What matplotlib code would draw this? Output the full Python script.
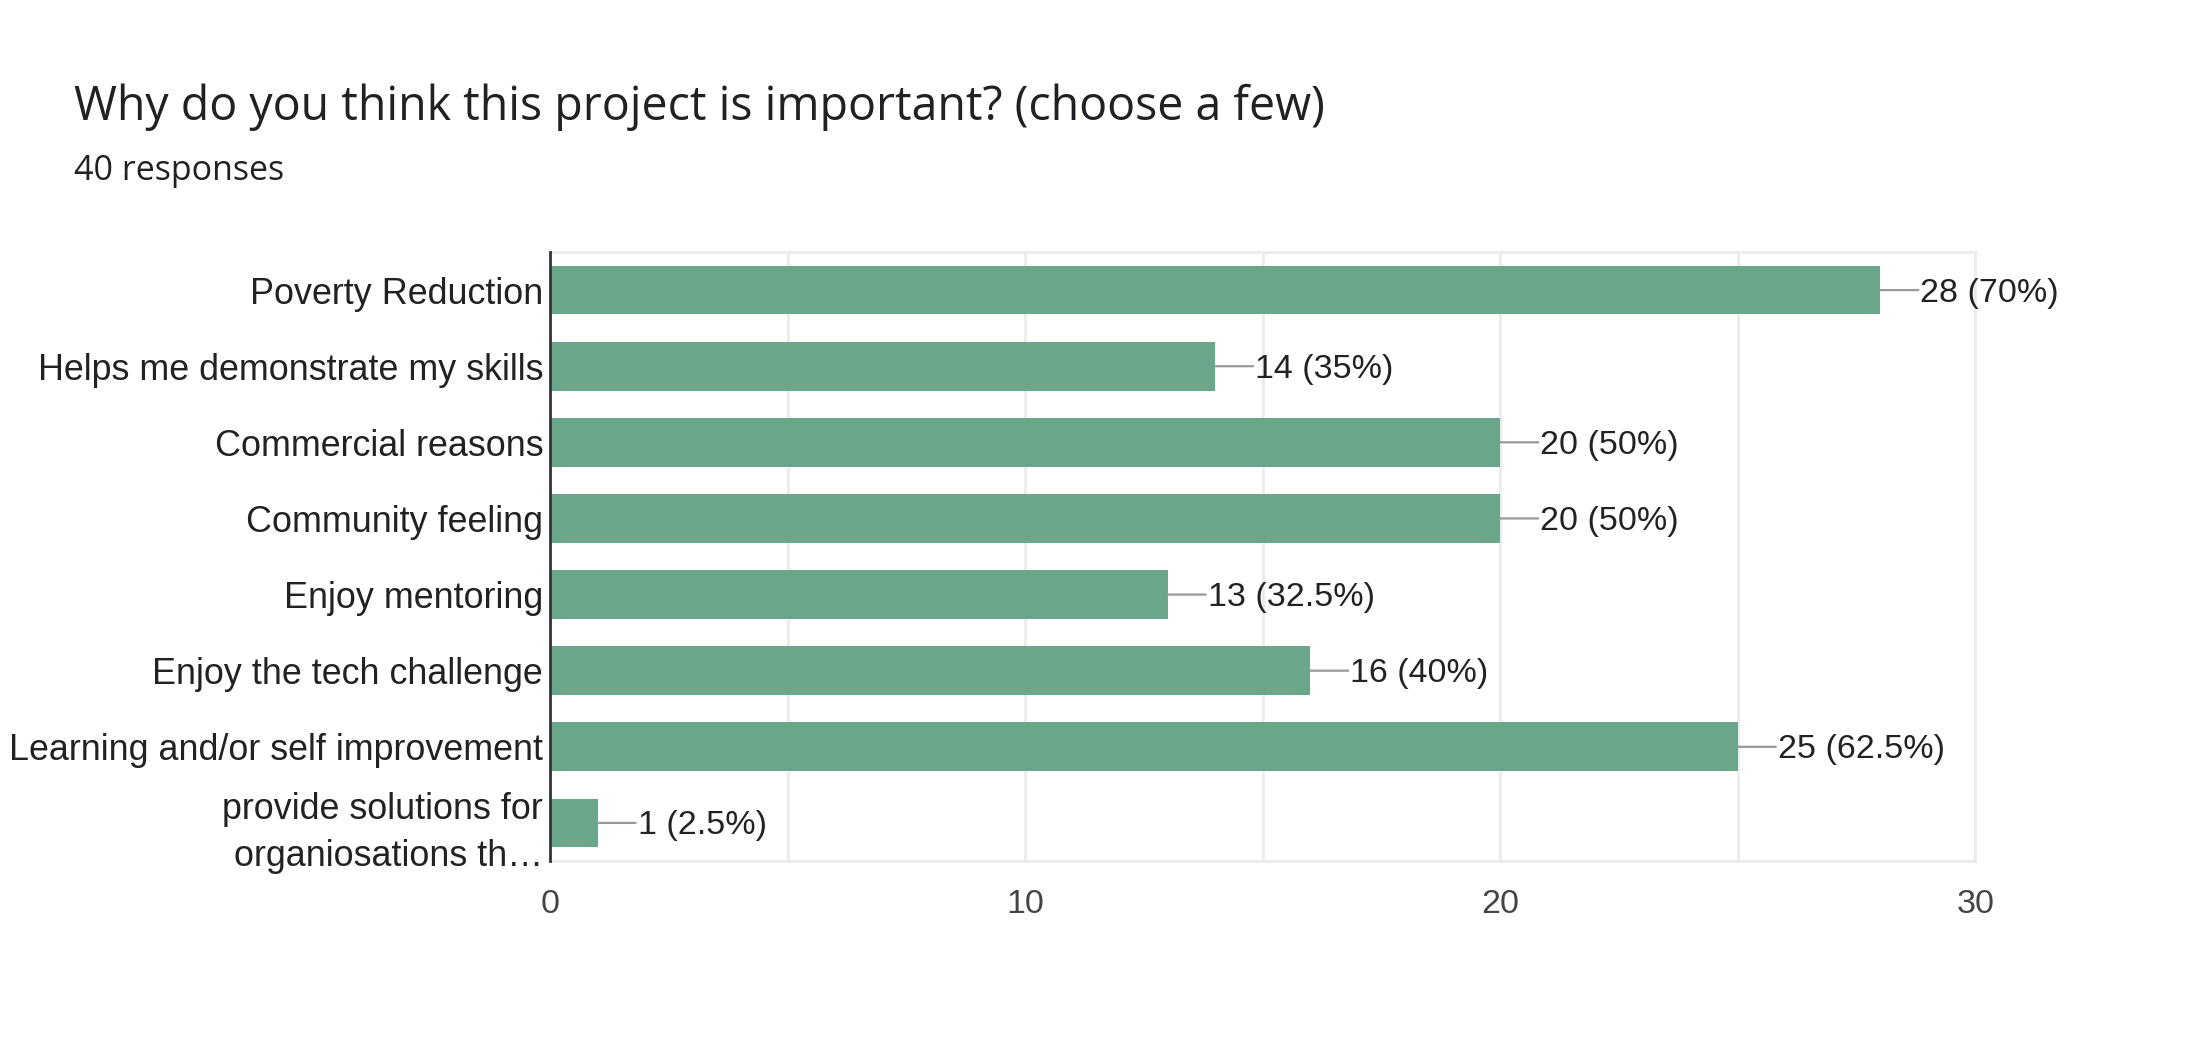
import matplotlib.pyplot as plt

categories = ["Poverty Reduction", "Helps me demonstrate my skills", "Commercial reasons",
              "Community feeling", "Enjoy mentoring", "Enjoy the tech challenge",
              "Learning and/or self improvement", "provide solutions for\norganiosations th\u2026"]
counts = [28, 14, 20, 20, 13, 16, 25, 1]
percents = ["70%", "35%", "50%", "50%", "32.5%", "40%", "62.5%", "2.5%"]
x_ticks = [0, 10, 20, 30]
title = "Why do you think this project is important? (choose a few)"
subtitle = "40 responses"

BAR_COLOR = "#6ba58a"
FONT = ["Liberation Sans", "DejaVu Sans"]
HEAD_FONT = ["Open Sans", "DejaVu Sans"]

fig = plt.figure(figsize=(21.96, 10.44), dpi=100)
ax = fig.add_axes([0.2505, 0.1753, 0.649, 0.5833])

ypos = list(range(len(categories)))
ax.barh(ypos, counts, height=0.64, color=BAR_COLOR, zorder=3)

# value labels with the little gray connector
for y, c, p in zip(ypos, counts, percents):
    ax.annotate("", xy=(c, y), xytext=(38, 0), textcoords="offset pixels",
                arrowprops=dict(arrowstyle="-", color="#999999", lw=1.6, shrinkA=0, shrinkB=0),
                zorder=4)
    ax.annotate(f"{c} ({p})", xy=(c, y), xytext=(40, -3), textcoords="offset pixels",
                ha="left", va="center", fontsize=24.5, color="#222222", family=FONT,
                annotation_clip=False)

ax.set_xlim(0, 30)
ax.set_ylim(len(categories) - 0.5, -0.5)
ax.set_yticks(ypos)
ax.set_yticklabels(categories, fontsize=25.8, color="#222222", family=FONT, linespacing=1.45)
ax.set_xticks(x_ticks)
ax.set_xticklabels([str(t) for t in x_ticks], fontsize=24.5, color="#444444", family=FONT)
ax.tick_params(axis="both", length=0)
ax.tick_params(axis="y", pad=5)
ax.tick_params(axis="x", pad=20)

# grid every 5
for gx in range(5, 31, 5):
    ax.axvline(gx, color="#ebebeb", lw=2, zorder=1)
ax.spines["left"].set_color("#333333")
ax.spines["left"].set_linewidth(2)
ax.spines["left"].set_zorder(5)
for s in ("top", "right", "bottom"):
    ax.spines[s].set_color("#ebebeb")
    ax.spines[s].set_linewidth(2)

fig.text(74 / 2196, 1 - 120 / 1044, title, fontsize=33.5, color="#202124",
         family=HEAD_FONT, ha="left", va="baseline")
fig.text(74 / 2196, 1 - 180 / 1044, subtitle, fontsize=24.5, color="#202124",
         family=HEAD_FONT, ha="left", va="baseline")

fig.savefig("out.png", dpi=100, facecolor="white")
